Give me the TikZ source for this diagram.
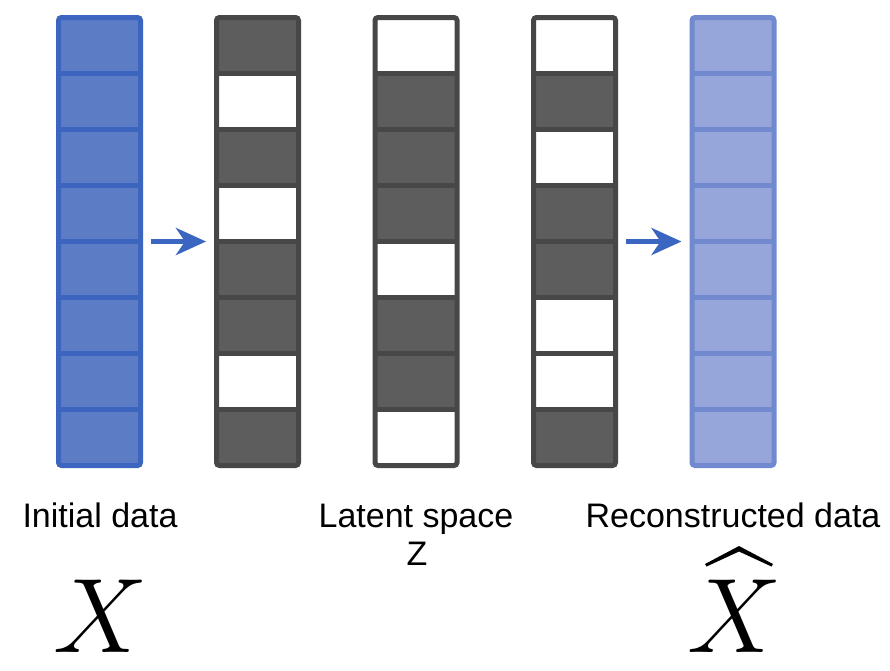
\RequirePackage{fix-cm}
\documentclass[tikz,border=0pt]{standalone}
\usepackage{fontspec}
\setmainfont{Liberation Sans}
\usetikzlibrary{arrows.meta}
\definecolor{bluefill}{HTML}{5D7CC6}
\definecolor{blueline}{HTML}{3C65BF}
\definecolor{lightfill}{HTML}{97A6DA}
\definecolor{lightline}{HTML}{7189CF}
\definecolor{darkfill}{HTML}{5D5D5D}
\definecolor{darkline}{HTML}{474747}
\definecolor{arrowblue}{HTML}{3A65C0}
\tikzset{
  colbox/.style={rectangle, minimum width=82pt, minimum height=448pt, inner sep=0pt, line width=5pt, rounded corners=3pt},
  sepline/.style={line width=4.5pt},
  flowarrow/.style={draw=arrowblue, line width=5.5pt, -{Stealth[length=30pt,width=27pt,inset=9pt]}, shorten <=8pt, shorten >=8pt},
  lbl/.style={anchor=base, inner sep=0pt, font=\fontsize{34}{38}\selectfont},
  bigx/.style={anchor=base, inner sep=0pt, text depth=0pt, font=\fontsize{106}{106}\selectfont}
}
\begin{document}
\begin{tikzpicture}[x=1pt,y=-1pt]
\useasboundingbox (0,0) rectangle (890,670);
\fill[white] (0,0) rectangle (890,670);
% column 1 (blue)
\fill[bluefill, rounded corners=3pt] (58.5,17.5) rectangle (140.5,465.5);
\foreach \k in {1,...,7} \draw[sepline, blueline] (58.5,17.5+56*\k) -- (140.5,17.5+56*\k);
\node[colbox, draw=blueline] (c1) at (99.5,241.5) {};
% column 5 (light blue)
\fill[lightfill, rounded corners=3pt] (692,17.5) rectangle (774,465.5);
\foreach \k in {1,...,7} \draw[sepline, lightline] (692,17.5+56*\k) -- (774,17.5+56*\k);
\node[colbox, draw=lightline] (c5) at (733,241.5) {};
% columns 2-4 (binary)
\foreach \x/\pat in {216.5/{1,0,1,0,1,1,0,1}, 375/{0,1,1,1,0,1,1,0}, 533.5/{0,1,0,1,1,0,0,1}}{
  \foreach \v [count=\r from 0] in \pat {
    \ifnum\v=1
      \fill[darkfill] (\x,17.5+56*\r) rectangle (\x+82,73.5+56*\r);
    \fi
  }
  \foreach \k in {1,...,7} \draw[sepline, darkline] (\x,17.5+56*\k) -- (\x+82,17.5+56*\k);
}
\node[colbox, draw=darkline] (c2) at (257.5,241.5) {};
\node[colbox, draw=darkline] (c3) at (416,241.5) {};
\node[colbox, draw=darkline] (c4) at (574.5,241.5) {};
% arrows
\draw[flowarrow] (c1.east) -- (c2.west);
\draw[flowarrow] (c4.east) -- (c5.west);
% labels
\node[lbl] (l1) at (100,527) {Initial data};
\node[lbl] (l3) at (416,527) {Latent space};
\node[lbl] (l3z) at (417,565) {Z};
\node[lbl] (l5) at (733,527) {Reconstructed data};
\node[bigx] (x1) at (101,652) {$X$};
\node[bigx] (x5) at (735,652) {$X$};
% hat accent over the second X
\fill[black] (705,564) -- (739,546) -- (773,564) -- (771.5,566.5) -- (739,551.5) -- (706.5,566.5) -- cycle;
\end{tikzpicture}
\end{document}
